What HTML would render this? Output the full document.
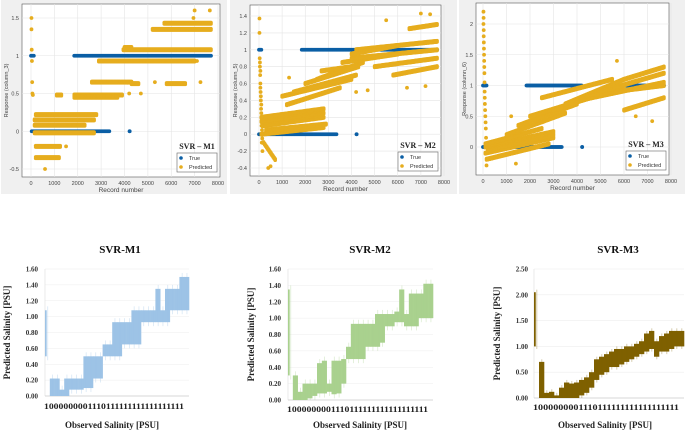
<!DOCTYPE html>
<html><head><meta charset="utf-8"><style>
body{margin:0;background:#fff;}
svg{display:block;font-family:"Liberation Sans",sans-serif;}
</style></head><body>
<svg id="c" width="685" height="431" viewBox="0 0 685 431"></svg>
<script>
// ---- Top scatter panel data ----
const m1True=[[0,120,1],[1850,7700,1],[30,3350,0],[4220,4220,0]];
const m1PredSegs=[[200,2800,0.22,0.22],[150,2700,0.15,0.15],[150,2300,0.08,0.08],[150,2700,-0.02,-0.02],[200,1250,-0.2,-0.2],[200,1200,-0.35,-0.35],[1100,1300,0.48,0.48],[1850,3900,0.48,0.48],[1850,3700,0.45,0.45],[2600,4300,0.65,0.65],[4300,4600,0.63,0.63],[5800,6600,0.63,0.63],[2900,7000,0.93,0.93],[3950,7700,1.08,1.08],[4000,4300,1.11,1.11],[5200,7700,1.35,1.35],[5700,7700,1.43,1.43]];
const m1PredPts=[[20,1.5],[20,1.35],[30,1.08],[40,0.93],[50,0.65],[60,0.5],[80,0.48],[600,-0.5],[1500,-0.2],[4200,0.5],[4700,0.5],[5300,0.65],[6950,1.5],[7000,1.6],[7650,1.6],[7250,0.65],[7100,0.93]];
const m2True=[[0,100,1],[1850,7700,1],[0,3350,0],[4220,4220,0]];
const m2PredSegs=[[100,2800,0.2,0.3],[100,2800,0.15,0.25],[150,2800,0.1,0.2],[300,2900,0.05,0.12],[100,2800,0.0,0.08],[1000,4000,0.45,0.65],[1500,4200,0.5,0.7],[2000,4300,0.6,0.8],[2700,4000,0.75,0.8],[1200,3500,0.35,0.55],[2500,4500,0.65,0.85],[3600,6000,0.85,0.95],[4000,7700,0.9,1.0],[4200,7700,1.0,1.1],[4000,6000,0.95,1.05],[5000,7700,0.8,0.9],[5800,7700,0.7,0.8],[6500,7700,1.25,1.3],[200,700,-0.1,-0.3]];
const m2PredPts=[[20,1.37],[20,1.2],[30,0.9],[40,0.8],[50,0.7],[60,0.6],[70,0.5],[80,0.4],[90,0.3],[100,0.2],[110,0.1],[120,-0.1],[150,-0.2],[40,0.85],[60,0.75],[60,0.55],[80,0.45],[100,0.35],[100,0.25],[130,0.05],[140,-0.05],[400,-0.4],[500,-0.38],[1300,0.67],[4200,0.5],[4700,0.52],[6400,0.55],[7200,0.57],[7000,1.43],[7400,1.42],[5500,1.35]];
const m3True=[[0,150,1],[1850,4200,1],[5700,7700,1],[0,3350,0],[4220,4220,0]];
const m3PredSegs=[[100,3000,0.0,0.25],[100,3000,-0.1,0.15],[150,2800,-0.2,0.05],[100,2500,0.05,0.3],[200,3000,-0.05,0.2],[1000,3500,0.2,0.55],[1500,4000,0.35,0.7],[2000,5000,0.5,0.85],[3000,6000,0.6,1.0],[3500,6000,0.7,1.1],[4000,7700,0.75,1.05],[4500,7700,0.85,1.0],[5000,7700,0.9,1.2],[6000,7700,0.6,0.8],[6000,7700,1.1,1.3],[2500,5500,0.8,1.1]];
const m3PredPts=[[20,2.2],[20,2.0],[30,1.8],[40,1.6],[50,1.4],[60,1.2],[70,0.9],[80,0.7],[100,0.5],[120,0.3],[150,-0.3],[25,2.1],[30,1.9],[35,1.7],[45,1.5],[55,1.3],[65,1.05],[75,0.8],[90,0.6],[110,0.4],[130,0.15],[140,-0.1],[1200,0.5],[1400,-0.27],[6500,0.5],[7200,0.42],[5700,1.4]];
const m1YTicks=[-0.5,0,0.5,1,1.5];
const m2YTicks=[-0.4,-0.2,0,0.2,0.4,0.6,0.8,1,1.2,1.4];
const m3YTicks=[0,0.5,1,1.5,2];
const xTicks=[0,1000,2000,3000,4000,5000,6000,7000,8000];
// ---- Bottom band chart data ----
const b1Low=[0.5,0,0,0,0,0.08,0.08,0.08,0.1,0.1,0.22,0.22,0.5,0.5,0.5,0.5,0.65,0.65,0.65,0.65,0.93,0.93,0.93,0.93,0.93,0.93,1.08,1.08,1.08,1.08];
const b1High=[1.08,0.22,0.22,0.08,0.22,0.22,0.22,0.22,0.5,0.5,0.5,0.5,0.65,0.65,0.93,0.93,0.93,0.93,1.08,1.08,1.08,1.08,1.08,1.35,1.08,1.35,1.35,1.35,1.5,1.5];
const b2Low=[0.3,0,0,0,0.02,0.05,0.08,0.08,0.1,0.07,0.08,0.2,0.5,0.5,0.5,0.5,0.65,0.65,0.65,0.7,0.9,0.9,0.95,0.95,0.9,0.9,0.9,1.0,1.0,1.0];
const b2High=[1.35,0.3,0.1,0.2,0.2,0.2,0.45,0.48,0.2,0.48,0.48,0.5,0.65,0.93,0.93,0.93,0.93,0.93,1.05,1.05,1.05,1.05,1.08,1.35,1.05,1.3,1.3,1.3,1.42,1.42];
const b3Low=[1.0,0,0,0,0,0,0,0,0,0.05,0.1,0.2,0.35,0.45,0.5,0.6,0.6,0.65,0.7,0.75,0.8,0.85,0.9,0.95,0.8,0.9,0.9,0.95,1.0,1.0];
const b3High=[2.05,0.7,0.1,0.12,0.05,0.2,0.3,0.28,0.3,0.35,0.4,0.5,0.75,0.8,0.85,0.9,0.95,0.95,1.0,1.0,1.05,1.1,1.25,1.3,1.1,1.2,1.25,1.3,1.3,1.3];
const b12Ticks=[0,0.2,0.4,0.6,0.8,1.0,1.2,1.4,1.6];
const b3Ticks=[0,0.5,1,1.5,2,2.5];

const NS="http://www.w3.org/2000/svg";
const svg=document.getElementById('c');
function mk(tag,attrs,parent,txt){const e=document.createElementNS(NS,tag);for(const k in attrs)e.setAttribute(k,attrs[k]);if(txt!==undefined)e.textContent=txt;(parent||svg).appendChild(e);return e;}

function scatterPanel(p){
  const g=mk('g',{});
  
  
  const bg=mk('rect',{x:p.fx0,y:0,width:p.fx1-p.fx0,height:194,fill:'#f0f0f0'},g);
  
  const pa=mk('rect',{x:p.bx0,y:p.by0,width:p.bx1-p.bx0,height:p.by1-p.by0,fill:'#fff',stroke:'#555','stroke-width':0.6},g);
  
  const X=v=>p.x0+(v/8000)*(p.x8-p.x0);
  const Y=v=>p.yA+(v-p.vA)/(p.vB-p.vA)*(p.yB-p.yA);
  xTicks.forEach(t=>{
    mk('line',{x1:X(t),x2:X(t),y1:p.by0,y2:p.by1,stroke:'#e4e4e4','stroke-width':0.6},g);
    const l=mk('text',{x:X(t),y:p.by1+8,'font-size':5.5,fill:'#444','text-anchor':'middle'},g,String(t));
    
  });
  p.yTicks.forEach(t=>{
    mk('line',{x1:p.bx0,x2:p.bx1,y1:Y(t),y2:Y(t),stroke:'#e4e4e4','stroke-width':0.6},g);
    const l=mk('text',{x:p.bx0-3,y:Y(t)+2,'font-size':5.5,fill:'#444','text-anchor':'end'},g,String(t));
    
  });
  const xt=mk('text',{x:(p.bx0+p.bx1)/2,y:p.by1+15,'font-size':6.5,fill:'#444','text-anchor':'middle'},g,'Record number');
  
  const yx=p.fx0+7,yy=(p.by0+p.by1)/2;
  const yt=mk('text',{x:yx,y:yy,'font-size':5.5,fill:'#444','text-anchor':'middle',transform:`rotate(-90 ${yx} ${yy})`},g,p.ylab);
  
  const tg=mk('g',{fill:'#0b5fa5'},g);
  
  const pg=mk('g',{fill:'#e6ad1e'},g);
  
  const off=[-0.7,0.7];
  p.pSegs.forEach(s=>{const n=Math.max(1,Math.round((s[1]-s[0])/45));for(let i=0;i<=n;i++){const f=i/n;off.forEach(o=>mk('circle',{cx:X(s[0]+f*(s[1]-s[0])),cy:Y(s[2]+f*(s[3]-s[2]))+o,r:1.8},pg));}});
  p.pPts.forEach(s=>mk('circle',{cx:X(s[0]),cy:Y(s[1]),r:1.9},pg));
  p.tSegs.forEach(s=>{const n=Math.max(1,Math.round((s[1]-s[0])/40));for(let i=0;i<=n;i++){mk('circle',{cx:X(s[0]+i/n*(s[1]-s[0])),cy:Y(s[2]),r:1.9},tg);}});
  const lx=p.bx1-43,ly=p.by1-24;
  const tt=mk('text',{x:lx+20,y:ly-4,'font-size':8,'font-weight':'bold','font-family':'Liberation Serif, serif','text-anchor':'middle',fill:'#222'},g,p.title);
  
  const lg=mk('g',{},g);
  mk('rect',{x:lx,y:ly,width:40,height:19,fill:'#fff',stroke:'#666','stroke-width':0.6},lg);
  mk('circle',{cx:lx+4,cy:ly+5,r:1.8,fill:'#0b5fa5'},lg);
  mk('text',{x:lx+12,y:ly+7,'font-size':5.5,fill:'#333'},lg,'True');
  mk('circle',{cx:lx+4,cy:ly+14,r:1.8,fill:'#e6ad1e'},lg);
  mk('text',{x:lx+12,y:ly+16,'font-size':5.5,fill:'#333'},lg,'Predicted');
}
scatterPanel({name:'svr-m1-scatter',title:'SVR – M1',ylab:'Response (column_3)',fx0:1,fx1:227,bx0:22,bx1:220,by0:4,by1:177,x0:31,x8:218,yA:18,vA:1.5,yB:169,vB:-0.5,yTicks:m1YTicks,tSegs:m1True,pSegs:m1PredSegs,pPts:m1PredPts});
scatterPanel({name:'svr-m2-scatter',title:'SVR – M2',ylab:'Response (column_5)',fx0:230,fx1:457,bx0:250,bx1:441,by0:5,by1:176,x0:259,x8:444,yA:16,vA:1.4,yB:168,vB:-0.4,yTicks:m2YTicks,tSegs:m2True,pSegs:m2PredSegs,pPts:m2PredPts});
scatterPanel({name:'svr-m3-scatter',title:'SVR – M3',ylab:'Response (column_6)',fx0:459,fx1:685,bx0:476,bx1:669,by0:3,by1:175,x0:483,x8:671,yA:24,vA:2,yB:147,vB:0,yTicks:m3YTicks,tSegs:m3True,pSegs:m3PredSegs,pPts:m3PredPts});

function bandPanel(p){
  const g=mk('g',{});
  
  
  const Y=v=>p.y0+(v/p.vmax)*(p.yTop-p.y0);
  const t=mk('text',{x:p.tx,y:253,'font-size':11,'font-weight':'bold','font-family':'Liberation Serif, serif','text-anchor':'middle',fill:'#111'},g,p.title);
  
  p.ticks.forEach(v=>{
    mk('line',{x1:p.px0,x2:p.px1,y1:Y(v),y2:Y(v),stroke:'#eeeeee','stroke-width':0.6},g);
    const l=mk('text',{x:p.lx,y:Y(v)+2.5,'font-size':7,'font-weight':'bold','font-family':'Liberation Serif, serif','text-anchor':'end',fill:'#333'},g,v.toFixed(2));
    
  });
  mk('line',{x1:p.px0,x2:p.px0,y1:p.yTop,y2:p.y0,stroke:'#ddd','stroke-width':0.6},g);
  mk('line',{x1:p.px0,x2:p.px1,y1:p.y0,y2:p.y0,stroke:'#ccc','stroke-width':0.8},g);
  const bg=mk('g',{fill:p.color},g);
  const n=p.low.length,w=(p.px1-p.px0)/n;
  for(let i=0;i<n;i++){const y1=Y(p.high[i]),y2=Y(p.low[i]);
    const bw=i===0?w*0.35:w+0.3;
    mk('rect',{x:p.px0+i*w,y:y1,width:bw,height:Math.max(0.8,y2-y1)},bg);
    const hi=Math.min(p.vmax,p.high[i]+0.05),lo=Math.max(0,p.low[i]-0.05);
    mk('rect',{x:p.px0+i*w+w*0.5,y:Y(hi),width:0.7,height:Y(lo)-Y(hi),opacity:0.45},bg);}
  const xl=mk('text',{x:p.px0-1,y:p.xly,'font-size':8,'font-weight':'bold','font-family':'Liberation Serif, serif',fill:'#222',textLength:p.px1-p.px0-4,lengthAdjust:'spacingAndGlyphs'},g,'1000000001110111111111111111111');
  
  const xt=mk('text',{x:p.xtx,y:428,'font-size':9,'font-weight':'bold','font-family':'Liberation Serif, serif','text-anchor':'middle',fill:'#222'},g,'Observed Salinity [PSU]');
  
  const yy=(p.yTop+p.y0)/2;
  const yt=mk('text',{x:p.ytx,y:yy,'font-size':9,'font-weight':'bold','font-family':'Liberation Serif, serif','text-anchor':'middle',fill:'#222',transform:`rotate(-90 ${p.ytx} ${yy})`},g,'Predicted Salinity [PSU]');
  
}
bandPanel({name:'svr-m1-line',title:'SVR-M1',tx:120,lx:38,px0:45,px1:189,yTop:269,y0:396,vmax:1.6,ticks:b12Ticks,low:b1Low,high:b1High,color:'#9dc3e6',xly:409,xtx:112,ytx:10});
bandPanel({name:'svr-m2-line',title:'SVR-M2',tx:370,lx:281,px0:288,px1:433,yTop:269,y0:400,vmax:1.6,ticks:b12Ticks,low:b2Low,high:b2High,color:'#a9d18e',xly:412,xtx:360,ytx:254});
bandPanel({name:'svr-m3-line',title:'SVR-M3',tx:618,lx:528,px0:534,px1:684,yTop:269,y0:398,vmax:2.5,ticks:b3Ticks,low:b3Low,high:b3High,color:'#7f6000',xly:410,xtx:605,ytx:500});
</script>
</body></html>
